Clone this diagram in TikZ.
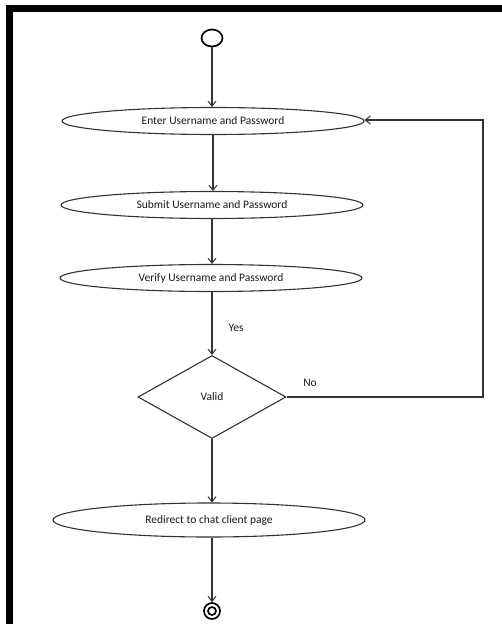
\documentclass[tikz,border=0pt]{standalone}
\usepackage{fontspec}
\setmainfont{Carlito}
\usetikzlibrary{shapes.geometric,arrows.meta}
\begin{document}
\begin{tikzpicture}[x=1pt,y=-1pt,
  ink/.style={draw=black!80, line width=1.1pt},
  activity/.style={ink, ellipse, inner sep=0pt, minimum width=302pt, minimum height=27pt,
    font=\fontsize{11.5}{13}\selectfont, text=black!90},
  decision/.style={ink, diamond, inner sep=0pt, minimum width=148pt, minimum height=83pt,
    font=\fontsize{11.5}{13}\selectfont, text=black!90},
  flow/.style={ink, -{Straight Barb[length=5pt,width=8pt,line width=1pt]}},
  lbl/.style={font=\fontsize{11.5}{13}\selectfont, text=black!90, inner sep=0pt}]
  \useasboundingbox (0,0) rectangle (502,624);
  % heavy frame along the top and left edges
  \fill[black] (6,5) rectangle (502,12);
  \fill[black] (6,5) rectangle (13,624);

  % start node
  \node[draw=black, line width=1.7pt, ellipse, minimum width=21pt, minimum height=17pt, inner sep=0pt] (start) at (212,38) {};

  % activities
  \node[activity] (enter)  at (213,121) {Enter Username and Password};
  \node[activity] (submit) at (212,205) {Submit Username and Password};
  \node[activity] (verify) at (211,278) {Verify Username and Password};
  \node[decision] (valid)  at (212,397) {Valid};
  \node[activity, minimum width=312pt, minimum height=34pt] (redirect) at (209,520) {Redirect to chat client page};

  % end node
  \node[draw=black, line width=1.7pt, circle, minimum size=16pt, inner sep=0pt] (finish) at (212,611) {};
  \node[draw=black, line width=1.7pt, circle, minimum size=8pt, inner sep=0pt] (finishin) at (finish.center) {};

  % control flow
  \draw[flow] (start.south) -- (enter.north -| start.south);
  \draw[flow] (enter.south) -- (submit.north -| enter.south);
  \draw[flow] (submit.south) -- (verify.north -| submit.south);
  \draw[flow] (verify.south -| valid.north) -- (valid.north);
  \draw[flow] (valid.south) -- (redirect.north -| valid.south);
  \draw[flow] (redirect.south -| finish.north) -- (finish.north);

  % retry loop
  \coordinate (loopbot) at (483,397);
  \coordinate (looptop) at (483,120);
  \draw[flow] (valid.east) -- (loopbot) -- (looptop) -- (enter.east |- looptop);

  % guards
  \node[lbl] (yes) at (236,328) {Yes};
  \node[lbl] (no)  at (310,383) {No};
\end{tikzpicture}
\end{document}
